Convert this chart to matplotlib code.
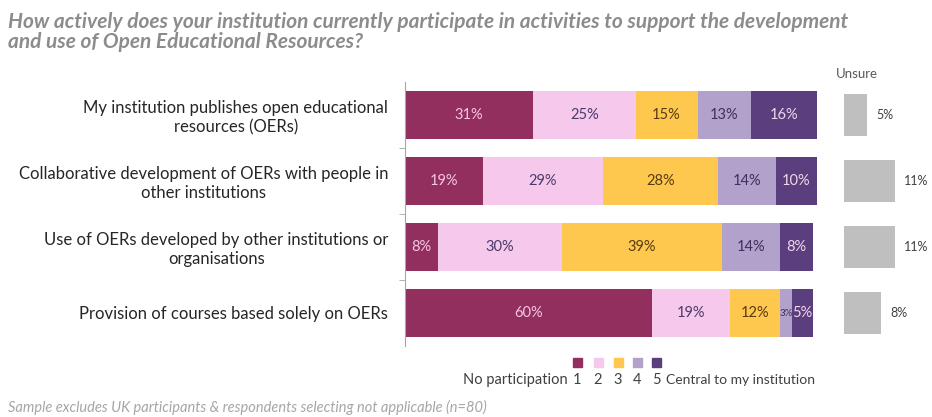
import matplotlib.pyplot as plt
from matplotlib.patches import Rectangle

plt.rcParams['font.family'] = ['Lato', 'DejaVu Sans']

categories = [
    'My institution publishes open educational\nresources (OERs)',
    'Collaborative development of OERs with people in\nother institutions',
    'Use of OERs developed by other institutions or\norganisations',
    'Provision of courses based solely on OERs',
]
level_1 = [31, 19, 8, 60]
level_2 = [25, 29, 30, 19]
level_3 = [15, 28, 39, 12]
level_4 = [13, 14, 14, 3]
level_5 = [16, 10, 8, 5]
unsure = [5, 11, 11, 8]
levels = [level_1, level_2, level_3, level_4, level_5]
level_names = ['1', '2', '3', '4', '5']

colors = ['#922F5E', '#F6C9EC', '#FEC84E', '#B2A1CB', '#5A3E7E']
text_colors = ['#F4C8E2', '#4A3A6A', '#5A3A10', '#3E2F5E', '#F2D6EC']
grey = '#BFBFBF'

W, H = 932, 417
fig = plt.figure(figsize=(W / 100, H / 100), dpi=100)


def box(x0, y_top, w, h):
    return [x0 / W, 1 - (y_top + h) / H, w / W, h / H]


# main stacked bars
ax = fig.add_axes(box(405, 82, 412, 264))
y = list(range(len(categories)))
left = [0] * len(categories)
for vals, c, tc in zip(levels, colors, text_colors):
    ax.barh(y, vals, left=left, height=0.73, color=c, edgecolor='none')
    for i, v in enumerate(vals):
        # tiny segments get a smaller label so neighbours don't collide
        fs = 10.5 if v >= 5 else 7
        ax.text(left[i] + v / 2, y[i], f'{v}%', ha='center', va='center',
                fontsize=fs, color=tc)
    left = [l + v for l, v in zip(left, vals)]

ax.set_xlim(0, 100)
ax.set_ylim(len(categories) - 0.5, -0.5)
ax.set_yticks(y)
ax.set_yticklabels(categories, fontsize=12, color='#262626', linespacing=1.2)
ax.set_yticks([0.5, 1.5, 2.5], minor=True)
ax.tick_params(axis='y', which='major', length=0, pad=12)
ax.tick_params(axis='y', which='minor', length=4, color='#A6A6A6', direction='out')
for lbl in ax.get_yticklabels():
    lbl.set_horizontalalignment('right')
    lbl.set_multialignment('center')
ax.set_xticks([])
for s in ['top', 'right', 'bottom']:
    ax.spines[s].set_visible(False)
ax.spines['left'].set_color('#A6A6A6')

# unsure panel
ax2 = fig.add_axes(box(844, 82, 88, 264))
ax2.barh(y, unsure, height=0.64, color=grey, edgecolor='none')
for i, v in enumerate(unsure):
    ax2.text(v + 2, y[i], f'{v}%', ha='left', va='center', fontsize=9, color='#404040')
ax2.set_xlim(0, 88 / 4.6)
ax2.set_ylim(len(categories) - 0.5, -0.5)
ax2.axis('off')
fig.text(836 / W, 1 - 74 / H, 'Unsure', fontsize=9.5, color='#595959', va='center')

# title
fig.text(8 / W, 1 - 32 / H,
         'How actively does your institution currently participate in activities to support the development\n'
         'and use of Open Educational Resources?',
         fontsize=15, fontweight='bold', fontstyle='italic', color='#8C8C8C',
         va='center', linespacing=1.05)

# legend
leg_x = [577, 598, 618, 637, 656]
for x, c, n in zip(leg_x, colors, level_names):
    fig.patches.append(Rectangle(((x - 4.5) / W, 1 - 367 / H), 9 / W, 9 / H,
                                 color=c, transform=fig.transFigure))
    fig.text(x / W, 1 - 380 / H, n, fontsize=10.5, ha='center', va='center', color='#404040')
fig.text(568 / W, 1 - 380 / H, 'No participation', fontsize=10.5, ha='right', va='center', color='#404040')
fig.text(666 / W, 1 - 380 / H, 'Central to my institution', fontsize=10, ha='left', va='center', color='#404040')

# footnote
fig.text(8 / W, 1 - 407 / H,
         'Sample excludes UK participants & respondents selecting not applicable (n=80)',
         fontsize=10.5, fontstyle='italic', color='#A6A6A6', va='center')

fig.savefig('out.png', dpi=100)
